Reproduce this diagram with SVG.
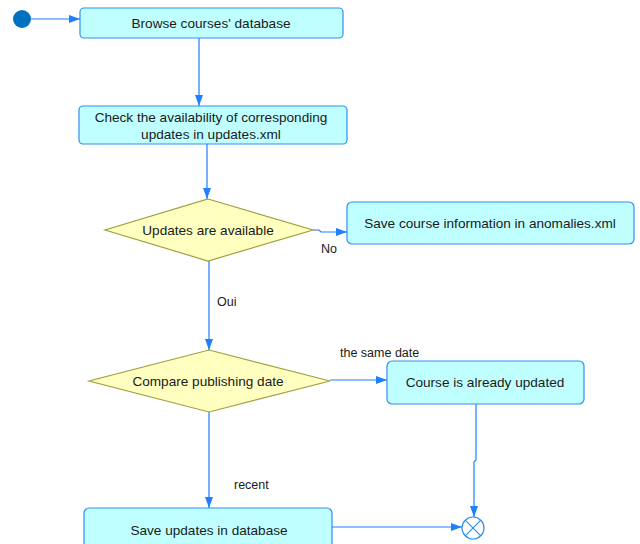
<svg xmlns="http://www.w3.org/2000/svg" width="640" height="544" viewBox="0 0 640 544">
<defs>
<marker id="arr" viewBox="0 0 12 10" refX="11" refY="5" markerWidth="12" markerHeight="10" markerUnits="userSpaceOnUse" orient="auto">
<path d="M0,1 L11,5 L0,9 Z" fill="#1E7FFF"/>
</marker>
<style>
.box{fill:#C0FFFF;stroke:#2F8FEF;stroke-width:1.2}
.dia{fill:#FFFFC0;stroke:#A0A040;stroke-width:1.2}
.lbl{font-family:"Liberation Sans",Arial,sans-serif;font-size:13.6px;fill:#1a1a1a;text-anchor:middle}
.small{font-family:"Liberation Sans",Arial,sans-serif;font-size:12.5px;fill:#1a1a1a}
.edge{fill:none;stroke:#1E7FFF;stroke-width:1.2}
</style>
</defs>
<rect width="640" height="544" fill="#ffffff"/>
<g id="connectors">
<path class="edge" d="M31,19 L80,19" marker-end="url(#arr)"/>
<path class="edge" d="M199,38 L199,106" marker-end="url(#arr)"/>
<path class="edge" d="M207,144 L207,199" marker-end="url(#arr)"/>
<path class="edge" d="M313,230 L319,230 L321,232 L347,232" marker-end="url(#arr)"/>
<path class="edge" d="M209,261 L209,350" marker-end="url(#arr)"/>
<path class="edge" d="M330,380 L387,380" marker-end="url(#arr)"/>
<path class="edge" d="M476,404 L476,460 L474,462 L474,517" marker-end="url(#arr)"/>
<path class="edge" d="M209,412 L209,508" marker-end="url(#arr)"/>
<path class="edge" d="M332,527 L462,527" marker-end="url(#arr)"/>
<text class="small" x="321" y="253">No</text>
<text class="small" x="217" y="306">Oui</text>
<text class="small" x="340" y="357">the same date</text>
<text class="small" x="234" y="489">recent</text>
</g>
<g id="start">
<circle cx="22" cy="19" r="9" fill="#0070C0"/>
</g>
<g id="browse">
<rect class="box" x="80" y="8" width="263" height="30" rx="4"/>
<text class="lbl" x="211" y="28">Browse courses' database</text>
</g>
<g id="check">
<rect class="box" x="79" y="106" width="268" height="38" rx="4"/>
<text class="lbl" x="211" y="122">Check the availability of corresponding</text>
<text class="lbl" x="211" y="139">updates in updates.xml</text>
</g>
<g id="available">
<polygon class="dia" points="208,199 313,230 208,261 105,230"/>
<text class="lbl" x="208" y="235">Updates are available</text>
</g>
<g id="anomalies">
<rect class="box" x="347" y="202" width="287" height="42" rx="5"/>
<text class="lbl" x="490" y="228">Save course information in anomalies.xml</text>
</g>
<g id="compare">
<polygon class="dia" points="209,350 330,381 209,412 89,381"/>
<text class="lbl" x="208" y="386">Compare publishing date</text>
</g>
<g id="already">
<rect class="box" x="387" y="361" width="197" height="43" rx="5"/>
<text class="lbl" x="485" y="387">Course is already updated</text>
</g>
<g id="saveupdates">
<rect class="box" x="84" y="508" width="248" height="44" rx="5"/>
<text class="lbl" x="209" y="535">Save updates in database</text>
</g>
<g id="end">
<circle cx="473" cy="528" r="11" fill="#ffffff" stroke="#2F8FEF" stroke-width="1.2"/>
<path d="M465.2,520.2 L480.8,535.8 M480.8,520.2 L465.2,535.8" stroke="#2F8FEF" stroke-width="1.2"/>
</g>
</svg>
